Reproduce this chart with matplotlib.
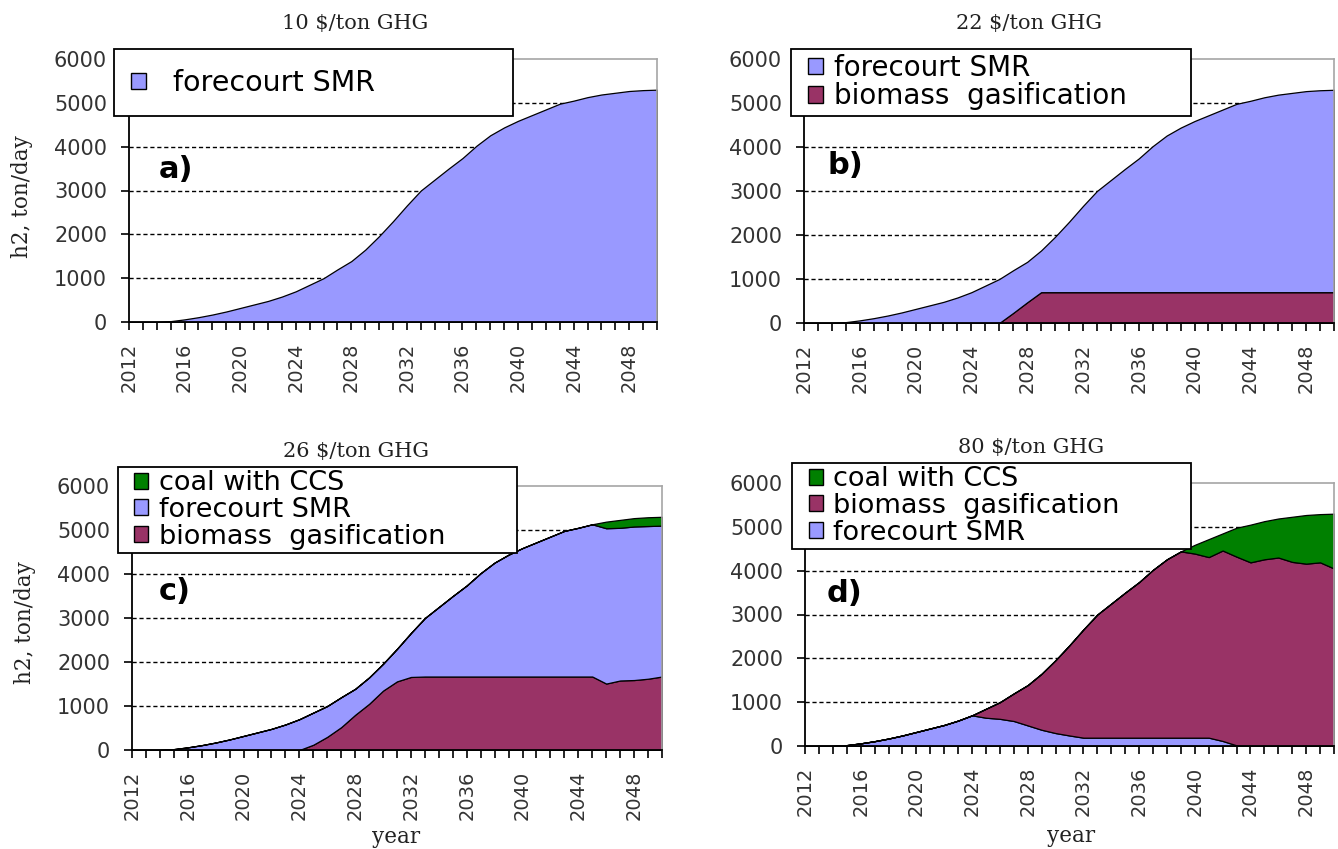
import matplotlib
matplotlib.use("Agg")
import matplotlib.pyplot as plt
from matplotlib.patches import Rectangle, Patch

# ---------------- data (h2, ton/day) ----------------
years = list(range(2012, 2051))

# a) 10 $/ton GHG
smr_a = [0, 0, 0, 20, 60, 110, 170, 240, 320, 400, 480, 580, 700, 850, 1000,
         1200, 1390, 1650, 1960, 2300, 2660, 3000, 3250, 3500, 3740, 4020,
         4260, 4440, 4590, 4720, 4850, 4980, 5050, 5130, 5190, 5230, 5270,
         5290, 5300]

# b) 22 $/ton GHG
bio_b = [0, 0, 0, 0, 0, 0, 0, 0, 0, 0, 0, 0, 0, 0, 0, 230, 470, 700, 700,
         700, 700, 700, 700, 700, 700, 700, 700, 700, 700, 700, 700, 700, 700,
         700, 700, 700, 700, 700, 700]
smr_b = [0, 0, 0, 20, 60, 110, 170, 240, 320, 400, 480, 580, 700, 850, 1000,
         970, 920, 950, 1260, 1600, 1960, 2300, 2550, 2800, 3040, 3320, 3560,
         3740, 3890, 4020, 4150, 4280, 4350, 4430, 4490, 4530, 4570, 4590,
         4600]

# c) 26 $/ton GHG
bio_c = [0, 0, 0, 0, 0, 0, 0, 0, 0, 0, 0, 0, 0, 120, 300, 520, 800, 1050,
         1350, 1560, 1660, 1670, 1670, 1670, 1670, 1670, 1670, 1670, 1670,
         1670, 1670, 1670, 1670, 1670, 1510, 1580, 1590, 1620, 1670]
smr_c = [0, 0, 0, 20, 60, 110, 170, 240, 320, 400, 480, 580, 700, 730, 700,
         680, 590, 600, 610, 740, 1000, 1330, 1580, 1830, 2070, 2350, 2590,
         2770, 2920, 3050, 3180, 3310, 3380, 3460, 3530, 3470, 3490, 3470,
         3430]
coal_c = [0, 0, 0, 0, 0, 0, 0, 0, 0, 0, 0, 0, 0, 0, 0, 0, 0, 0, 0, 0, 0, 0,
          0, 0, 0, 0, 0, 0, 0, 0, 0, 0, 0, 0, 150, 180, 190, 200, 200]

# d) 80 $/ton GHG
smr_d = [0, 0, 0, 20, 60, 110, 170, 240, 320, 400, 480, 580, 700, 645, 620,
         570, 470, 370, 295, 240, 190, 190, 190, 190, 190, 190, 190, 190, 190,
         190, 115, 15, 0, 0, 0, 0, 0, 0, 0]
bio_d = [0, 0, 0, 0, 0, 0, 0, 0, 0, 0, 0, 0, 0, 205, 380, 630, 920, 1280,
         1665, 2060, 2470, 2810, 3060, 3310, 3550, 3830, 4070, 4250, 4200,
         4120, 4345, 4305, 4190, 4260, 4300, 4200, 4160, 4190, 4050]
coal_d = [0, 0, 0, 0, 0, 0, 0, 0, 0, 0, 0, 0, 0, 0, 0, 0, 0, 0, 0, 0, 0, 0,
          0, 0, 0, 0, 0, 0, 200, 410, 390, 660, 860, 870, 890, 1030, 1110,
          1100, 1250]

titles = ["10 $/ton GHG", "22 $/ton GHG", "26 $/ton GHG", "80 $/ton GHG"]
letters = ["a)", "b)", "c)", "d)"]
lab_smr = "forecourt SMR"
lab_bio = "biomass  gasification"
lab_coal = "coal with CCS"
y_ticks = [0, 1000, 2000, 3000, 4000, 5000, 6000]
grid_levels = [1000, 2000, 3000, 4000, 5000]
x_major = list(range(2012, 2050, 4))

C_SMR = "#9999FF"
C_BIO = "#993366"
C_COAL = "#008000"

# ---------------- layout (pixel based) ----------------
W, H = 1338, 849
fig = plt.figure(figsize=(W / 100, H / 100), dpi=100)


def fx(x):
    return x / W


def fy(y):
    return 1 - y / H


panels = [
    dict(box=(129, 59, 657, 322), stack=[smr_a], colors=[C_SMR],
         leg=[(C_SMR, lab_smr)], title_xy=(355, 23), letter_xy=(159, 170),
         leg_box=(114, 49, 513, 116), leg_anchor=(131, 83), hpad=0.95,
         lspace=0.0, fs=20.5, ylab=(22, 197), xlab=None),
    dict(box=(804, 59, 1334, 323), stack=[bio_b, smr_b], colors=[C_BIO, C_SMR],
         leg=[(C_SMR, lab_smr), (C_BIO, lab_bio)], title_xy=(1029, 23),
         letter_xy=(827, 166), leg_box=(791, 49, 1191, 116),
         leg_anchor=(808, 82), hpad=0.4, lspace=0.02, fs=20, ylab=None,
         xlab=None),
    dict(box=(132, 486, 662, 750), stack=[bio_c, smr_c, coal_c],
         colors=[C_BIO, C_SMR, C_COAL],
         leg=[(C_COAL, lab_coal), (C_SMR, lab_smr), (C_BIO, lab_bio)],
         title_xy=(356, 452), letter_xy=(159, 591),
         leg_box=(118, 467, 517, 553), leg_anchor=(134, 510), hpad=0.4,
         lspace=0.02, fs=19.5, ylab=(25, 623), xlab=(396, 837)),
    dict(box=(805, 483, 1334, 746), stack=[smr_d, bio_d, coal_d],
         colors=[C_SMR, C_BIO, C_COAL],
         leg=[(C_COAL, lab_coal), (C_BIO, lab_bio), (C_SMR, lab_smr)],
         title_xy=(1031, 448), letter_xy=(827, 593),
         leg_box=(792, 463, 1191, 549), leg_anchor=(809, 506), hpad=0.35,
         lspace=0.02, fs=19.5, ylab=None, xlab=(1071, 836)),
]

tick_len = 8 * 0.72

for i, p in enumerate(panels):
    l, t, r, b = p["box"]
    ax = fig.add_axes([fx(l), fy(b), (r - l) / W, (b - t) / H])
    for lv in grid_levels:
        ax.axhline(lv, color="black", lw=1.0, linestyle=(0, (3, 2)), zorder=0.5)
    ax.stackplot(years, *p["stack"], colors=p["colors"], edgecolor="black",
                 linewidth=0.9, zorder=2)
    ax.set_xlim(2012, 2050)
    ax.set_ylim(0, 6000)
    ax.set_yticks(y_ticks)
    ax.set_xticks(x_major)
    ax.set_xticks(years, minor=True)
    ax.set_xticklabels([str(v) for v in x_major], rotation=90)
    ax.tick_params(axis="both", which="both", direction="out", length=tick_len,
                   width=1.2, color="black", labelcolor="#333333", pad=10)
    ax.tick_params(axis="y", labelsize=15)
    ax.tick_params(axis="x", labelsize=14, pad=9)
    for lab in ax.get_xticklabels() + ax.get_yticklabels():
        lab.set_family("DejaVu Sans")
    for s in ("left", "bottom"):
        ax.spines[s].set_color("black")
        ax.spines[s].set_linewidth(1.3)
    for s in ("top", "right"):
        ax.spines[s].set_color("#A6A6A6")
        ax.spines[s].set_linewidth(1.2)
    ax.set_facecolor("white")

    # title, letter, axis labels
    tx, ty = p["title_xy"]
    fig.text(fx(tx), fy(ty), titles[i], ha="center", va="center",
             family="DejaVu Serif", size=15, color="#222222")
    lx, ly = p["letter_xy"]
    fig.text(fx(lx), fy(ly), letters[i], ha="left", va="center",
             family="DejaVu Sans", weight="bold", size=22, color="black")
    if p["ylab"]:
        fig.text(fx(p["ylab"][0]), fy(p["ylab"][1]), "h2, ton/day",
                 rotation=90, ha="center", va="center", family="DejaVu Serif",
                 size=15.5, color="#222222")
    if p["xlab"]:
        fig.text(fx(p["xlab"][0]), fy(p["xlab"][1]), "year", ha="center",
                 va="center", family="DejaVu Serif", size=15.5, color="#222222")

    # legend frame + legend
    bl, bt, br, bb = p["leg_box"]
    fig.add_artist(Rectangle((fx(bl), fy(bb)), (br - bl) / W, (bb - bt) / H,
                             transform=fig.transFigure, facecolor="white",
                             edgecolor="black", lw=1.3, zorder=1))
    handles = [Patch(facecolor=c, edgecolor="black", lw=1.0) for c, _ in p["leg"]]
    labels = [lab for _, lab in p["leg"]]
    ax_leg = p["leg_anchor"]
    leg = fig.legend(handles, labels, loc="center left",
                     bbox_to_anchor=(fx(ax_leg[0]), fy(ax_leg[1])),
                     bbox_transform=fig.transFigure, frameon=False,
                     borderpad=0, borderaxespad=0, handlelength=0.53,
                     handleheight=0.53, handletextpad=p["hpad"],
                     labelspacing=p["lspace"],
                     prop=dict(family="DejaVu Sans", size=p["fs"]))
    leg.set_zorder(6)

fig.savefig("out.png", dpi=100, facecolor="white")
